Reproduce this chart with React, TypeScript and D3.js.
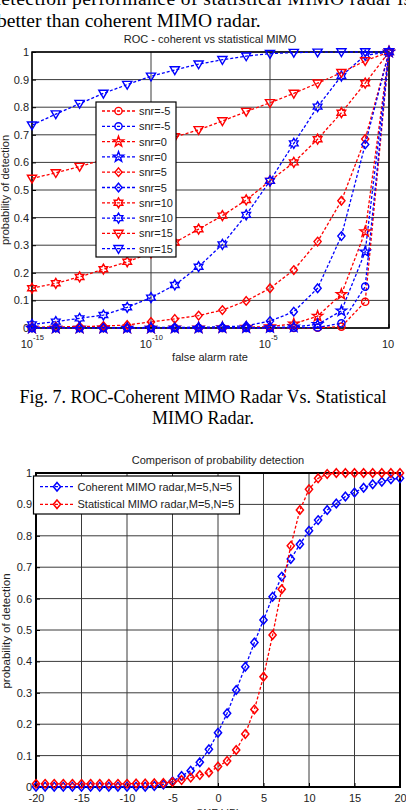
import { useEffect, useRef } from "react";
import * as d3 from "d3";

const width = 406;
const height = 810;

// ---- ROC chart (Fig. 7) ----
const farExponents = [-15, -14, -13, -12, -11, -10, -9, -8, -7, -6, -5, -4, -3, -2, -1, 0];
const farTicks = [1e-15, 1e-10, 1e-5, 1];
const farTickSup = ["-15", "-10", "-5", ""];
const pdTicks = [0, 0.1, 0.2, 0.3, 0.4, 0.5, 0.6, 0.7, 0.8, 0.9, 1];

const rocLabels = ["snr=-5", "snr=-5", "snr=0", "snr=0", "snr=5", "snr=5", "snr=10", "snr=10", "snr=15", "snr=15"];
const rocColors = ["red", "blue", "red", "blue", "red", "blue", "red", "blue", "red", "blue"];
const rocMarkers = ["circle", "circle", "pentagram", "pentagram", "diamond", "diamond", "hexagram", "hexagram", "triangle", "triangle"];

const pdRedM5 = [0, 0, 0, 0, 0, 0, 0, 0, 0, 0, 0, 0, 0.001, 0.005, 0.095, 1];
const pdBlueM5 = [0, 0, 0, 0, 0, 0, 0, 0, 0, 0, 0, 0.001, 0.002, 0.017, 0.15, 1];
const pdRed0 = [0, 0, 0, 0, 0, 0, 0.001, 0.001, 0.002, 0.003, 0.005, 0.015, 0.043, 0.122, 0.349, 1];
const pdBlue0 = [0, 0, 0, 0, 0, 0, 0, 0, 0.001, 0.001, 0.002, 0.004, 0.013, 0.062, 0.276, 1];
const pdRed5 = [0.003, 0.004, 0.005, 0.007, 0.011, 0.022, 0.033, 0.045, 0.065, 0.098, 0.144, 0.21, 0.313, 0.461, 0.685, 1];
const pdBlue5 = [0.001, 0.001, 0.001, 0.001, 0.001, 0.002, 0.002, 0.003, 0.004, 0.008, 0.025, 0.059, 0.144, 0.333, 0.665, 1];
const pdRed10 = [0.144, 0.162, 0.185, 0.213, 0.24, 0.272, 0.31, 0.358, 0.407, 0.464, 0.533, 0.6, 0.684, 0.78, 0.887, 1];
const pdBlue10 = [0.013, 0.023, 0.035, 0.047, 0.075, 0.11, 0.156, 0.222, 0.303, 0.41, 0.533, 0.669, 0.802, 0.913, 0.988, 1];
const pdRed15 = [0.542, 0.562, 0.585, 0.61, 0.637, 0.665, 0.692, 0.718, 0.75, 0.784, 0.816, 0.85, 0.887, 0.925, 0.968, 1];
const pdBlue15 = [0.735, 0.775, 0.813, 0.85, 0.882, 0.912, 0.935, 0.956, 0.972, 0.985, 0.994, 0.998, 0.999, 1, 1, 1];
const rocValues = [pdRedM5, pdBlueM5, pdRed0, pdBlue0, pdRed5, pdBlue5, pdRed10, pdBlue10, pdRed15, pdBlue15];

// ---- Pd vs SNR chart ----
const snrDb = [-20, -19, -18, -17, -16, -15, -14, -13, -12, -11, -10, -9, -8, -7, -6, -5, -4, -3, -2, -1, 0,
  1, 2, 3, 4, 5, 6, 7, 8, 9, 10, 11, 12, 13, 14, 15, 16, 17, 18, 19, 20];
const snrTicks = [-20, -15, -10, -5, 0, 5, 10, 15, 20];
const pdCoherent = [0.001, 0.001, 0.001, 0.001, 0.001, 0.001, 0.001, 0.001, 0.001, 0.001, 0.001, 0.001, 0.001, 0.003, 0.008,
  0.018, 0.035, 0.052, 0.079, 0.12, 0.173, 0.235, 0.309, 0.383, 0.46, 0.532, 0.606, 0.67, 0.726, 0.773, 0.816,
  0.85, 0.882, 0.903, 0.925, 0.938, 0.953, 0.964, 0.972, 0.98, 0.983];
const pdStatistical = [0.01, 0.01, 0.01, 0.01, 0.01, 0.01, 0.01, 0.01, 0.01, 0.01, 0.01, 0.011, 0.011, 0.012, 0.013,
  0.016, 0.022, 0.03, 0.038, 0.046, 0.065, 0.083, 0.118, 0.169, 0.247, 0.351, 0.484, 0.63, 0.768, 0.882, 0.948,
  0.983, 0.997, 1, 1, 1, 1, 1, 1, 1, 1];
const snrLabels = ["Coherent MIMO radar,M=5,N=5", "Statistical MIMO radar,M=5,N=5"];
const snrColors = ["blue", "red"];

const SANS = "'Liberation Sans', Arial, sans-serif";
const SERIF = "'Liberation Serif', 'Times New Roman', serif";

function star(n: number, ro: number, ri: number) {
  const pts: string[] = [];
  for (let i = 0; i < 2 * n; i++) {
    const r = i % 2 === 0 ? ro : ri;
    const a = (i * Math.PI) / n;
    pts.push(`${(r * Math.sin(a)).toFixed(2)},${(-r * Math.cos(a)).toFixed(2)}`);
  }
  return "M" + pts.join("L") + "Z";
}

function markerPath(kind: string) {
  switch (kind) {
    case "circle": {
      const p = d3.path();
      p.arc(0, 0, 3.6, 0, Math.PI * 2);
      p.closePath();
      return p.toString();
    }
    case "diamond":
      return "M0,-4.3L3.6,0L0,4.3L-3.6,0Z";
    case "triangle":
      return "M-4.6,-3.2L4.6,-3.2L0,4.6Z";
    case "pentagram":
      return star(5, 5.4, 2.2);
    case "hexagram":
      return star(6, 5, 2.9);
    default:
      return "";
  }
}

function App() {
  const svgRef = useRef(null);

  useEffect(() => {
    draw();
  }, []);

  const draw = () => {
    const svg = d3.select(svgRef.current);
    svg.selectAll("*").remove();

    // text above the first figure (cut by the page edge, as in the scan)
    svg.append("text")
      .attr("x", -9).attr("y", 5)
      .attr("textLength", 420).attr("lengthAdjust", "spacing")
      .style("font-family", SERIF).style("font-size", "19.5px")
      .text("detection performance of statistical MIMO radar is");
    svg.append("text")
      .attr("x", -3).attr("y", 27)
      .style("font-family", SERIF).style("font-size", "19.5px")
      .text("better than coherent MIMO radar.");

    // ================= ROC chart =================
    const x1 = d3.scaleLog().domain([1e-15, 1]).range([32, 389]);
    const y1 = d3.scaleLinear().domain([0, 1]).range([328, 52]);
    const g1 = svg.append("g");

    // grid
    g1.selectAll(".hgrid").data(pdTicks).join("line")
      .attr("x1", x1.range()[0]).attr("x2", x1.range()[1])
      .attr("y1", d => y1(d)).attr("y2", d => y1(d))
      .attr("stroke", "#3a3a3a").attr("stroke-width", 1);
    g1.selectAll(".vgrid").data(farTicks).join("line")
      .attr("y1", y1.range()[0]).attr("y2", y1.range()[1])
      .attr("x1", d => x1(d)).attr("x2", d => x1(d))
      .attr("stroke", "#3a3a3a").attr("stroke-width", 1);

    // box
    g1.append("rect")
      .attr("x", x1.range()[0]).attr("y", y1.range()[1])
      .attr("width", x1.range()[1] - x1.range()[0])
      .attr("height", y1.range()[0] - y1.range()[1])
      .attr("fill", "none").attr("stroke", "black").attr("stroke-width", 1.5);

    // y axis
    const yAx1 = g1.append("g")
      .attr("transform", `translate(${x1.range()[0]},0)`)
      .call(d3.axisLeft(y1).tickValues(pdTicks).tickSize(-4).tickSizeOuter(0).tickPadding(3).tickFormat(d => String(d)));
    yAx1.select(".domain").remove();
    yAx1.selectAll("text").style("font-family", SANS).style("font-size", "11px").attr("fill", "#222");

    // x axis labels: 10^k
    farTicks.forEach((t, i) => {
      const tx = x1(t);
      if (farTickSup[i]) {
        g1.append("text").attr("x", tx + 1).attr("y", 348).attr("text-anchor", "end")
          .style("font-family", SANS).style("font-size", "11px").attr("fill", "#222").text("10");
        g1.append("text").attr("x", tx + 1).attr("y", 340)
          .style("font-family", SANS).style("font-size", "7.5px").attr("fill", "#222").text(farTickSup[i]);
      } else {
        g1.append("text").attr("x", tx - 1).attr("y", 348).attr("text-anchor", "middle")
          .style("font-family", SANS).style("font-size", "11px").attr("fill", "#222").text("10");
      }
      g1.append("line").attr("x1", tx).attr("x2", tx).attr("y1", y1(0)).attr("y2", y1(0) - 4).attr("stroke", "black");
    });

    g1.append("text").attr("x", 210).attr("y", 43).attr("text-anchor", "middle")
      .style("font-family", SANS).style("font-size", "11px").attr("fill", "#222")
      .text("ROC - coherent vs statistical MIMO");
    g1.append("text").attr("x", 210).attr("y", 361).attr("text-anchor", "middle")
      .style("font-family", SANS).style("font-size", "11px").attr("fill", "#222")
      .text("false alarm rate");
    g1.append("text").attr("transform", "translate(9,190) rotate(-90)").attr("text-anchor", "middle")
      .style("font-family", SANS).style("font-size", "11px").attr("fill", "#222")
      .text("probability of detection");

    const line1 = d3.line<number>()
      .x((_, i) => x1(Math.pow(10, farExponents[i])))
      .y(d => y1(d));

    rocValues.forEach((vals, s) => {
      const c = rocColors[s];
      g1.append("path").datum(vals)
        .attr("d", line1).attr("fill", "none")
        .attr("stroke", c).attr("stroke-width", 1.3).attr("stroke-dasharray", "3,2");
      g1.selectAll(null).data(vals).join("path")
        .attr("transform", (d, i) => `translate(${x1(Math.pow(10, farExponents[i]))},${y1(d)})`)
        .attr("d", markerPath(rocMarkers[s]))
        .attr("fill", "none").attr("stroke", c).attr("stroke-width", 1.4);
    });

    // legend
    const lg1 = g1.append("g");
    lg1.append("rect").attr("x", 96).attr("y", 102).attr("width", 80).attr("height", 155)
      .attr("fill", "white").attr("stroke", "black").attr("stroke-width", 1.2);
    rocLabels.forEach((lab, i) => {
      const ly = 111 + i * 15.3;
      lg1.append("line").attr("x1", 102).attr("x2", 135).attr("y1", ly).attr("y2", ly)
        .attr("stroke", rocColors[i]).attr("stroke-width", 1.3).attr("stroke-dasharray", "3,2");
      lg1.append("path").attr("transform", `translate(118.5,${ly})`).attr("d", markerPath(rocMarkers[i]))
        .attr("fill", "none").attr("stroke", rocColors[i]).attr("stroke-width", 1.4);
      lg1.append("text").attr("x", 139).attr("y", ly + 4)
        .style("font-family", SANS).style("font-size", "11px").attr("fill", "#222").text(lab);
    });

    // caption
    svg.append("text").attr("x", 203).attr("y", 403).attr("text-anchor", "middle")
      .style("font-family", SERIF).style("font-size", "18px")
      .text("Fig. 7. ROC-Coherent MIMO Radar Vs. Statistical");
    svg.append("text").attr("x", 203).attr("y", 423.5).attr("text-anchor", "middle")
      .style("font-family", SERIF).style("font-size", "18px")
      .text("MIMO Radar.");

    // ================= Pd vs SNR chart =================
    const x2 = d3.scaleLinear().domain([-20, 20]).range([36, 400]);
    const y2 = d3.scaleLinear().domain([0, 1]).range([787, 473]);
    const g2 = svg.append("g");

    g2.selectAll(".hgrid").data(pdTicks).join("line")
      .attr("x1", x2.range()[0]).attr("x2", x2.range()[1])
      .attr("y1", d => y2(d)).attr("y2", d => y2(d))
      .attr("stroke", "#3a3a3a").attr("stroke-width", 1);
    g2.selectAll(".vgrid").data(snrTicks).join("line")
      .attr("y1", y2.range()[0]).attr("y2", y2.range()[1])
      .attr("x1", d => x2(d)).attr("x2", d => x2(d))
      .attr("stroke", "#3a3a3a").attr("stroke-width", 1);
    g2.append("rect")
      .attr("x", x2.range()[0]).attr("y", y2.range()[1])
      .attr("width", x2.range()[1] - x2.range()[0])
      .attr("height", y2.range()[0] - y2.range()[1])
      .attr("fill", "none").attr("stroke", "black").attr("stroke-width", 2);

    const yAx2 = g2.append("g")
      .attr("transform", `translate(${x2.range()[0]},0)`)
      .call(d3.axisLeft(y2).tickValues(pdTicks).tickSize(-4).tickSizeOuter(0).tickPadding(4).tickFormat(d => String(d)));
    yAx2.select(".domain").remove();
    yAx2.selectAll("text").style("font-family", SANS).style("font-size", "11px").attr("fill", "#222");

    const xAx2 = g2.append("g")
      .attr("transform", `translate(0,${y2.range()[0]})`)
      .call(d3.axisBottom(x2).tickValues(snrTicks).tickSize(-4).tickSizeOuter(0).tickPadding(7).tickFormat(d => String(d)));
    xAx2.select(".domain").remove();
    xAx2.selectAll("text").style("font-family", SANS).style("font-size", "11px").attr("fill", "#222");

    g2.append("text").attr("x", 218).attr("y", 464).attr("text-anchor", "middle")
      .style("font-family", SANS).style("font-size", "11px").attr("fill", "#222")
      .text("Comperison of probability detection");
    g2.append("text").attr("x", 218).attr("y", 817).attr("text-anchor", "middle")
      .style("font-family", SANS).style("font-size", "11px").attr("fill", "#222")
      .text("SNR(dB)");
    g2.append("text").attr("transform", "translate(10,631) rotate(-90)").attr("text-anchor", "middle")
      .style("font-family", SANS).style("font-size", "11.5px").attr("fill", "#222")
      .text("probability of detection");

    const line2 = d3.line<number>()
      .x((_, i) => x2(snrDb[i]))
      .y(d => y2(d));

    [pdCoherent, pdStatistical].forEach((vals, s) => {
      const c = snrColors[s];
      g2.append("path").datum(vals)
        .attr("d", line2).attr("fill", "none")
        .attr("stroke", c).attr("stroke-width", 1.3).attr("stroke-dasharray", "3,2");
      g2.selectAll(null).data(vals).join("path")
        .attr("transform", (d, i) => `translate(${x2(snrDb[i])},${y2(d)})`)
        .attr("d", markerPath("diamond"))
        .attr("fill", "none").attr("stroke", c).attr("stroke-width", 1.5);
    });

    const lg2 = g2.append("g");
    lg2.append("rect").attr("x", 33.5).attr("y", 476).attr("width", 206).attr("height", 38)
      .attr("fill", "white").attr("stroke", "black").attr("stroke-width", 1.2);
    snrLabels.forEach((lab, i) => {
      const ly = 486.7 + i * 17.6;
      lg2.append("line").attr("x1", 40).attr("x2", 73).attr("y1", ly).attr("y2", ly)
        .attr("stroke", snrColors[i]).attr("stroke-width", 1.3).attr("stroke-dasharray", "3,2");
      lg2.append("path").attr("transform", `translate(57,${ly})`).attr("d", markerPath("diamond"))
        .attr("fill", "none").attr("stroke", snrColors[i]).attr("stroke-width", 1.5);
      lg2.append("text").attr("x", 77.5).attr("y", ly + 4)
        .style("font-family", SANS).style("font-size", "11px").attr("fill", "#222").text(lab);
    });
  };

  return (
    <div style={{ position: "absolute", left: 0, top: 0, width, height, overflow: "hidden", background: "white" }}>
      <svg width={width} height={height} ref={svgRef} style={{ display: "block" }}></svg>
    </div>
  );
}

export default App;
